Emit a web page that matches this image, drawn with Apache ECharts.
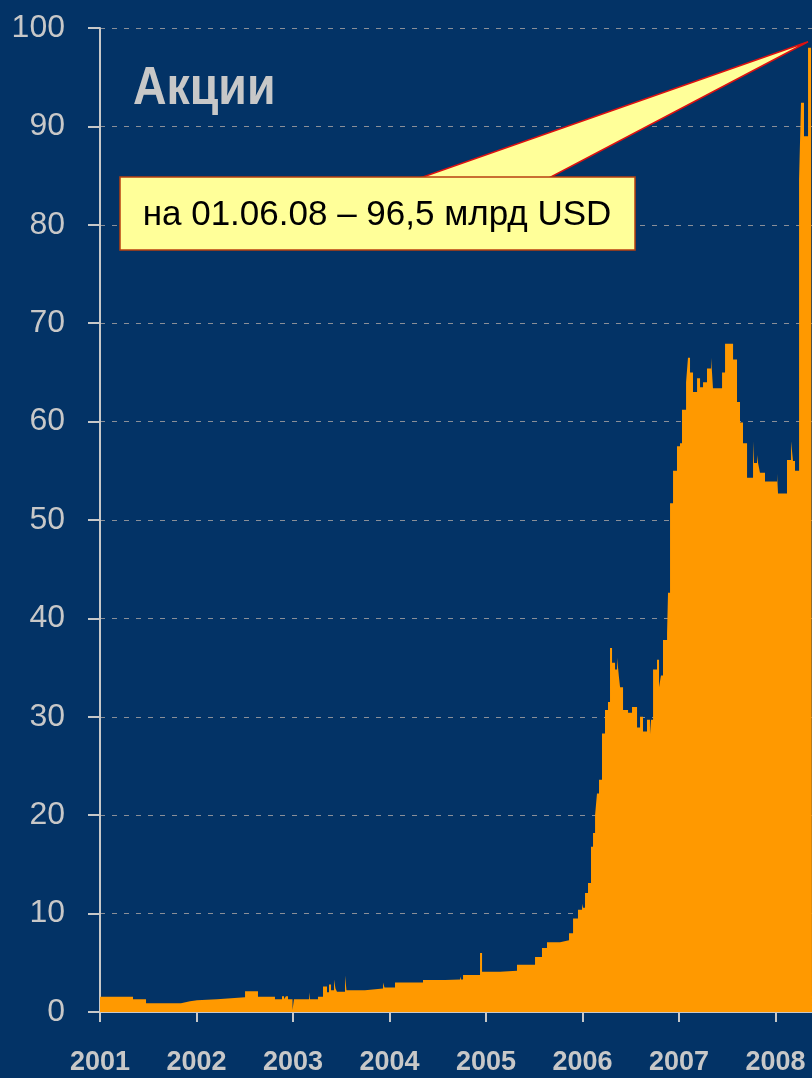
<!DOCTYPE html>
<html>
<head>
<meta charset="utf-8">
<script src="https://cdn.jsdelivr.net/npm/echarts@6/dist/echarts.min.js"></script>
<style>
  html, body { margin: 0; padding: 0; background: #033366; }
  #chart { width: 812px; height: 1078px; }
</style>
</head>
<body>
<div id="chart"></div>
<script>
// время в долях года (начало каждого ступенчатого отрезка)
const dates = [
  2001.000, 2001.342, 2001.477, 2001.839, 2001.933, 2002.005, 2002.212, 2002.503, 2002.637, 2002.813,
  2002.886, 2002.907, 2002.927, 2002.948, 2002.995, 2003.010, 2003.166, 2003.176, 2003.259, 2003.311,
  2003.352, 2003.373, 2003.394, 2003.425, 2003.440, 2003.456, 2003.539, 2003.554, 2003.746, 2003.933,
  2003.948, 2004.057, 2004.347, 2004.575, 2004.731, 2004.741, 2004.762, 2004.938, 2004.959, 2005.145,
  2005.321, 2005.508, 2005.580, 2005.632, 2005.767, 2005.860, 2005.902, 2005.953, 2005.995, 2006.005,
  2006.026, 2006.057, 2006.088, 2006.109, 2006.130, 2006.150, 2006.171, 2006.202, 2006.233, 2006.264,
  2006.285, 2006.306, 2006.337, 2006.358, 2006.378, 2006.389, 2006.420, 2006.472, 2006.513, 2006.565,
  2006.596, 2006.627, 2006.668, 2006.699, 2006.710, 2006.731, 2006.772, 2006.793, 2006.813, 2006.834,
  2006.876, 2006.886, 2006.907, 2006.938, 2006.979, 2007.010, 2007.031, 2007.073, 2007.093, 2007.114,
  2007.145, 2007.187, 2007.218, 2007.249, 2007.290, 2007.332, 2007.342, 2007.352, 2007.446, 2007.477,
  2007.560, 2007.601, 2007.632, 2007.663, 2007.705, 2007.767, 2007.777, 2007.808, 2007.819, 2007.839,
  2007.891, 2008.016, 2008.026, 2008.119, 2008.161, 2008.181, 2008.202, 2008.244, 2008.264, 2008.295,
  2008.337, 2008.368, 2008.378
]
// акции, млрд USD
const stocks = [
  1.55, 1.3, 0.9, 1.1, 1.2, 1.3, 1.5, 2.1, 1.55, 1.3,
  1.6, 1.3, 1.6, 1.3, 0.2, 1.3, 2.0, 1.3, 1.55, 2.6,
  2.0, 2.8, 2.2, 3.3, 2.4, 2.05, 3.7, 2.2, 2.4, 3.0,
  2.5, 3.0, 3.25, 3.3, 3.6, 3.3, 3.75, 6.0, 4.1, 4.2,
  4.8, 5.6, 6.5, 7.1, 7.3, 8.0, 9.5, 10.4, 11.0, 10.6,
  12.1, 13.1, 16.8, 18.2, 20.0, 22.2, 23.6, 28.3, 30.7, 31.5,
  37.0, 35.5, 34.8, 36.0, 34.0, 33.0, 30.7, 30.4, 31.0, 28.9,
  30.0, 28.5, 29.7, 28.2, 29.7, 34.8, 35.8, 33.0, 34.2, 37.8,
  38.5, 42.6, 51.7, 55.0, 57.5, 57.8, 61.2, 64.0, 66.5, 65.0,
  63.0, 64.4, 63.5, 64.0, 65.4, 66.5, 65.0, 63.4, 65.0, 67.9,
  66.3, 62.0, 59.9, 57.8, 54.3, 58.0, 55.8, 56.6, 55.8, 54.8,
  53.9, 54.7, 52.7, 56.1, 58.0, 56.0, 55.0, 84.6, 92.4, 89.0,
  98.0, 96.5, 96.5
]
const yTicks = [0, 10, 20, 30, 40, 50, 60, 70, 80, 90, 100]
const yearLabels = ['2001', '2002', '2003', '2004', '2005', '2006', '2007', '2008']

const title = 'Акции'
const note = 'на 01.06.08 – 96,5 млрд USD'
const peak = [2008.337, 98.6]

const font = "'Liberation Sans', Arial, sans-serif"

const chart = echarts.init(document.getElementById('chart'))

const option = {
  backgroundColor: '#033366',
  animation: false,
  grid: {
    left: 100,
    right: 0,
    top: 28,
    bottom: 66
  },
  xAxis: {
    type: 'value',
    min: 2001,
    max: dates[dates.length - 1],
    interval: 1,
    splitLine: { show: false },
    axisLine: {
      show: true,
      onZero: false,
      lineStyle: { color: '#c8c8c8', width: 2 }
    },
    axisTick: {
      show: true,
      length: 10,
      lineStyle: { color: '#c8c8c8', width: 2 }
    },
    axisLabel: {
      color: '#c8c8c8',
      fontFamily: font,
      fontWeight: 'bold',
      fontSize: 27,
      margin: 37,
      showMaxLabel: false,
      formatter: function(v) {
        const s = String(Math.round(v))
        return Math.abs(v - Math.round(v)) < 1e-6 && yearLabels.indexOf(s) >= 0 ? s : ''
      }
    }
  },
  yAxis: {
    type: 'value',
    min: yTicks[0],
    max: yTicks[yTicks.length - 1],
    interval: 10,
    axisLine: {
      show: true,
      lineStyle: { color: '#c8c8c8', width: 2 }
    },
    axisTick: {
      show: true,
      length: 12,
      lineStyle: { color: '#c8c8c8', width: 2 }
    },
    axisLabel: {
      color: '#c8c8c8',
      fontFamily: font,
      fontSize: 32,
      margin: 35
    },
    splitLine: {
      show: true,
      lineStyle: { color: '#8a8f98', width: 1, type: [5, 7] }
    }
  },
  series: [
    {
      type: 'line',
      step: 'end',
      symbol: 'none',
      lineStyle: { width: 0 },
      areaStyle: { color: '#ff9900', opacity: 1 },
      data: dates.map((d, i) => [d, stocks[i]])
    }
  ]
}
chart.setOption(option)

// выноска с подписью
const tip = chart.convertToPixel({ gridIndex: 0 }, peak)
chart.setOption({
  graphic: [
    {
      type: 'text',
      x: 133,
      y: 62,
      scaleX: 0.86,
      style: {
        text: title,
        fill: '#c8c8c8',
        font: 'bold 54px ' + font
      }
    },
    {
      type: 'polygon',
      shape: { points: [[420, 178], [549, 178], tip] },
      style: { fill: '#ffff99', stroke: '#dd1111', lineWidth: 1.5 },
      z: 10
    },
    {
      type: 'rect',
      shape: { x: 120, y: 177, width: 515, height: 73 },
      style: { fill: '#ffff99', stroke: '#b8400f', lineWidth: 1.5 },
      z: 11
    },
    {
      type: 'text',
      x: 377,
      y: 215,
      style: {
        text: note,
        fill: '#000',
        font: '35px ' + font,
        align: 'center',
        verticalAlign: 'middle'
      },
      z: 12
    }
  ]
})
</script>
</body>
</html>
